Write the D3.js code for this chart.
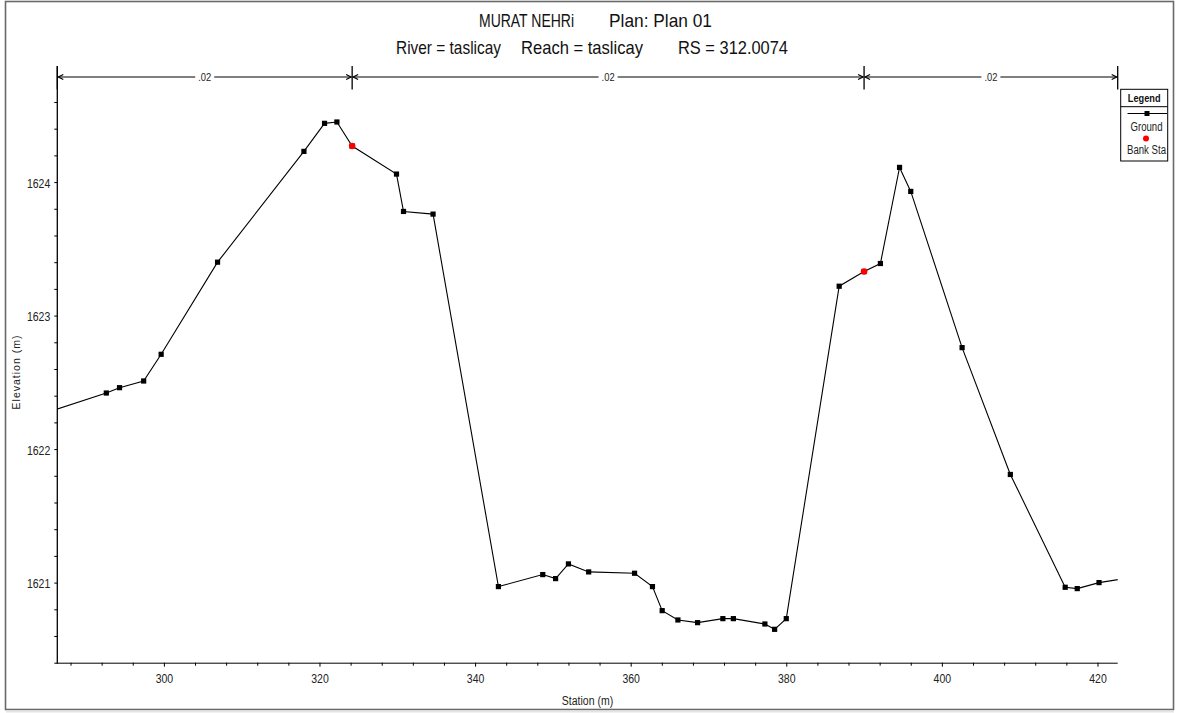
<!DOCTYPE html>
<html>
<head>
<meta charset="utf-8">
<script src="https://cdn.jsdelivr.net/npm/d3@7/dist/d3.min.js"></script>
<style>
  html, body { margin: 0; padding: 0; background: #fff; }
  svg { display: block; }
  text { font-family: "Liberation Sans", Arial, sans-serif; }
</style>
</head>
<body>
<svg id="chart" width="1178" height="713"></svg>
<script>
// ---------------- DATA ----------------
const titleParts = ["MURAT NEHRi", "Plan: Plan 01"];
const subtitleParts = ["River = taslicay", "Reach = taslicay", "RS = 312.0074"];
const xLabel = "Station (m)";
const yLabel = "Elevation (m)";

const stations = [285.5, 292.6, 294.3, 297.4, 299.65, 306.9, 318.0, 320.65, 322.24, 324.2,
  329.9, 330.8, 334.6, 343.0, 348.7, 350.35, 352.0, 354.6, 360.5, 362.8,
  364.05, 366.07, 368.6, 371.85, 373.2, 377.25, 378.5, 380.0, 386.8, 390.0,
  392.1, 394.56, 396.0, 402.6, 408.8, 415.85, 417.4, 420.2, 423.5];
const elevations = [1622.285, 1622.42, 1622.46, 1622.51, 1622.71, 1623.40, 1624.23, 1624.44, 1624.45, 1624.27,
  1624.06, 1623.78, 1623.76, 1620.97, 1621.06, 1621.03, 1621.14, 1621.08, 1621.07, 1620.97,
  1620.79, 1620.72, 1620.70, 1620.73, 1620.73, 1620.69, 1620.65, 1620.73, 1623.22, 1623.33,
  1623.39, 1624.11, 1623.93, 1622.76, 1621.81, 1620.965, 1620.955, 1621.00, 1621.03];

const bankStations = [324.2, 390.0];
const bankElevations = [1624.27, 1623.33];

const nBreaks = [286.3, 324.2, 390.0, 422.6];
const nValues = [".02", ".02", ".02"];

const xTicks = [300, 320, 340, 360, 380, 400, 420];
const xMinorTicks = d3.range(288, 421, 4);
const yTicks = [1621, 1622, 1623, 1624];
const yMinorTicks = d3.range(0, 22).map(i => +(1620.4 + i * 0.2).toFixed(1));

const legendItems = ["Ground", "Bank Sta"];

// ---------------- HELPERS ----------------
function squeeze(sel, k) {
  sel.each(function () {
    const w = this.getComputedTextLength();
    d3.select(this).attr("textLength", w * k).attr("lengthAdjust", "spacingAndGlyphs");
  });
  return sel;
}
function fitTo(sel, w) {
  sel.attr("textLength", w).attr("lengthAdjust", "spacingAndGlyphs");
  return sel;
}

// ---------------- LAYOUT ----------------
const svg = d3.select("#chart");
const L = 57.3, R = 1117.7, B = 662.7, T = 66;
const x = d3.scaleLinear().domain([286.3, 422.6]).range([L, R]);
const y = d3.scaleLinear().domain([1620.4, 1624.85]).range([B, 68.6]);

// outer frame
svg.append("rect").attr("x", 5.5).attr("y", 1.5).attr("width", 1168).attr("height", 708)
  .attr("fill", "#fff").attr("stroke", "#6a6a6a").attr("stroke-width", 1.6);
svg.append("line").attr("x1", 6).attr("x2", 1174).attr("y1", 711.5).attr("y2", 711.5)
  .attr("stroke", "#e4e4e4").attr("stroke-width", 2);

// titles
const t1 = svg.append("g").attr("font-size", 19).attr("fill", "#111");
fitTo(t1.append("text").attr("x", 479).attr("y", 27).text(titleParts[0]), 95);
fitTo(t1.append("text").attr("x", 609).attr("y", 27).text(titleParts[1]), 103);
const t2 = svg.append("g").attr("font-size", 19).attr("fill", "#111");
const subX = [396, 521, 678], subW = [105, 122, 110];
subtitleParts.forEach((s, i) => fitTo(t2.append("text").attr("x", subX[i]).attr("y", 54).text(s), subW[i]));

// clip
svg.append("clipPath").attr("id", "clip").append("rect")
  .attr("x", L).attr("y", T).attr("width", R - L).attr("height", B - T);

// axes
const gx = svg.append("g").attr("transform", `translate(0,${B})`)
  .call(d3.axisBottom(x).tickValues(xTicks).tickSize(4).tickSizeOuter(0).tickFormat(d3.format("d")));
gx.select(".domain").remove();
gx.selectAll("text").attr("font-family", null).attr("font-size", 12.5).attr("fill", "#222").attr("dy", "1.05em");
squeeze(gx.selectAll("text"), 0.84);
svg.append("g").attr("transform", `translate(0,${B})`)
  .call(d3.axisBottom(x).tickValues(xMinorTicks.filter(v => !xTicks.includes(v))).tickSize(3).tickFormat(""))
  .select(".domain").remove();
svg.append("line").attr("x1", L).attr("x2", R).attr("y1", B + 0.5).attr("y2", B + 0.5)
  .attr("stroke", "#000").attr("stroke-width", 1);

const gy = svg.append("g").attr("transform", `translate(${L},0)`)
  .call(d3.axisLeft(y).tickValues(yTicks).tickSize(3).tickSizeOuter(0).tickFormat(d3.format("d")));
gy.select(".domain").remove();
gy.selectAll("text").attr("font-family", null).attr("font-size", 12.5).attr("fill", "#222").attr("dx", "-1px").attr("dy", "0.4em");
squeeze(gy.selectAll("text"), 0.84);
svg.append("g").attr("transform", `translate(${L},0)`)
  .call(d3.axisLeft(y).tickValues(yMinorTicks.filter(v => !yTicks.includes(v))).tickSize(3).tickFormat(""))
  .select(".domain").remove();
svg.append("line").attr("x1", L).attr("x2", L).attr("y1", T).attr("y2", B + 1)
  .attr("stroke", "#000").attr("stroke-width", 1.3);

// axis labels
squeeze(svg.append("text").attr("x", (L + R) / 2).attr("y", 705)
  .attr("text-anchor", "middle").attr("font-size", 12.5).attr("fill", "#222").text(xLabel), 0.84);
svg.append("text").attr("transform", "translate(20,372) rotate(-90)")
  .attr("text-anchor", "middle")
  .attr("font-size", 10.5).attr("letter-spacing", 1).attr("fill", "#222").text(yLabel);

// n-value bar
const nY = 77;
const nG = svg.append("g");
nBreaks.forEach(b => {
  nG.append("line").attr("x1", x(b)).attr("x2", x(b)).attr("y1", 66).attr("y2", 89.5)
    .attr("stroke", "#000").attr("stroke-width", 1.3);
});
nValues.forEach((v, i) => {
  const a = x(nBreaks[i]), c = x(nBreaks[i + 1]), m = (a + c) / 2;
  const lw = 13;
  nG.append("line").attr("x1", a + 1).attr("x2", m - lw / 2 - 3).attr("y1", nY).attr("y2", nY).attr("stroke", "#000");
  nG.append("line").attr("x1", m + lw / 2 + 3).attr("x2", c - 1).attr("y1", nY).attr("y2", nY).attr("stroke", "#000");
  nG.append("path").attr("d", `M${a + 6},${nY - 2.5} L${a + 1},${nY} L${a + 6},${nY + 2.5}`)
    .attr("fill", "none").attr("stroke", "#000").attr("stroke-width", 1.2);
  nG.append("path").attr("d", `M${c - 6},${nY - 2.5} L${c - 1},${nY} L${c - 6},${nY + 2.5}`)
    .attr("fill", "none").attr("stroke", "#000").attr("stroke-width", 1.2);
  squeeze(nG.append("text").attr("x", m).attr("y", nY + 4)
    .attr("text-anchor", "middle").attr("font-size", 11).attr("fill", "#222").text(v), 0.85);
});

// ground line
const pts = stations.map((s, i) => [s, elevations[i]]);
const plot = svg.append("g").attr("clip-path", "url(#clip)");
plot.append("path").datum(pts)
  .attr("d", d3.line().x(d => x(d[0])).y(d => y(d[1])))
  .attr("fill", "none").attr("stroke", "#000").attr("stroke-width", 1.1);
plot.selectAll("rect.m").data(pts).enter().append("rect").attr("class", "m")
  .attr("x", d => x(d[0]) - 2.6).attr("y", d => y(d[1]) - 2.6)
  .attr("width", 5.2).attr("height", 5.2).attr("fill", "#000");
plot.selectAll("circle.bank").data(bankStations).enter().append("circle").attr("class", "bank")
  .attr("cx", d => x(d)).attr("cy", (d, i) => y(bankElevations[i])).attr("r", 3.3).attr("fill", "#ff0000");

// legend
const lg = svg.append("g");
lg.append("rect").attr("x", 1120.7).attr("y", 89.3).attr("width", 47).attr("height", 71.7)
  .attr("fill", "#fff").attr("stroke", "#000").attr("stroke-width", 1);
lg.append("line").attr("x1", 1120.7).attr("x2", 1167.7).attr("y1", 106.7).attr("y2", 106.7).attr("stroke", "#000");
squeeze(lg.append("text").attr("x", 1144.2).attr("y", 101.5).attr("text-anchor", "middle")
  .attr("font-size", 11.5).attr("font-weight", "bold").attr("fill", "#111").text("Legend"), 0.8);
lg.append("line").attr("x1", 1127.5).attr("x2", 1167).attr("y1", 113.5).attr("y2", 113.5).attr("stroke", "#000");
lg.append("rect").attr("x", 1144.5).attr("y", 111).attr("width", 5).attr("height", 5).attr("fill", "#000");
squeeze(lg.append("text").attr("x", 1146.5).attr("y", 130.5).attr("text-anchor", "middle")
  .attr("font-size", 12).attr("fill", "#222").text(legendItems[0]), 0.8);
lg.append("circle").attr("cx", 1146).attr("cy", 138.5).attr("r", 3).attr("fill", "#ff0000");
squeeze(lg.append("text").attr("x", 1146.5).attr("y", 154).attr("text-anchor", "middle")
  .attr("font-size", 12).attr("fill", "#222").text(legendItems[1]), 0.8);
</script>
</body>
</html>
